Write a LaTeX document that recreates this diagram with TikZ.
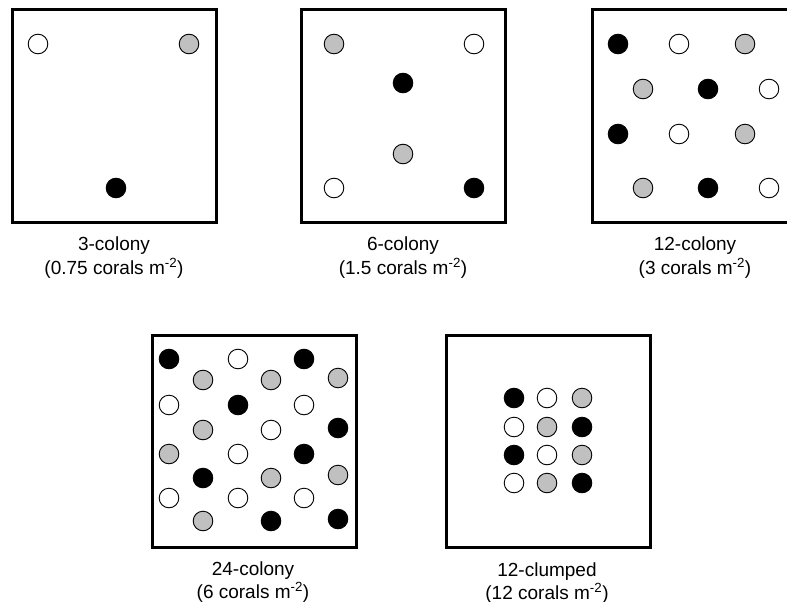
\documentclass[tikz,border=0pt]{standalone}
\usepackage{fontspec}
\setmainfont{Liberation Sans}
\definecolor{coralgray}{RGB}{192,192,192}

\begin{document}
\begin{tikzpicture}[x=1pt, y=-1pt,
	plotbox/.style={line width=3pt},
	coral/.style={draw=black, line width=0.9pt},
	labeltext/.style={anchor=base, inner sep=0pt, font=\fontsize{19}{23}\selectfont}]
	\useasboundingbox (0,0) rectangle (787,602);
	\clip (0,0) rectangle (787,602);

	% Kasten 1: 3-colony
	\draw[plotbox] (12,10) rectangle (216,222);
	\foreach \x/\y/\c in {38/44/white, 189/44/coralgray, 116/188/black}
		\draw[coral, fill=\c] (\x,\y) circle (9.8);
	\node[labeltext] (lab3a) at (114,250) {3-colony};
	\node[labeltext] (lab3b) at (114,274) {(0.75 corals m\textsuperscript{-2})};

	% Kasten 2: 6-colony
	\draw[plotbox] (301,10) rectangle (505,222);
	\foreach \x/\y/\c in {334/44/coralgray, 474/44/white, 403/83/black,
		403/154/coralgray, 334/188/white, 474/188/black}
		\draw[coral, fill=\c] (\x,\y) circle (9.8);
	\node[labeltext] (lab6a) at (403,250) {6-colony};
	\node[labeltext] (lab6b) at (403,274) {(1.5 corals m\textsuperscript{-2})};

	% Kasten 3: 12-colony (rechts abgeschnitten)
	\draw[plotbox] (592,10) rectangle (796,222);
	\foreach \x/\y/\c in {618/44/black, 679/44/white, 745/44/coralgray,
		643/89/coralgray, 708/89/black, 769/89/white,
		618/134/black, 679/134/white, 745/134/coralgray,
		643/188/coralgray, 708/188/black, 769/188/white}
		\draw[coral, fill=\c] (\x,\y) circle (9.8);
	\node[labeltext] (lab12a) at (695,250) {12-colony};
	\node[labeltext] (lab12b) at (695,274) {(3 corals m\textsuperscript{-2})};

	% Kasten 4: 24-colony
	\draw[plotbox] (152,335) rectangle (356,547);
	\foreach \x/\y/\c in {169/359/black, 238/359/white, 304/359/black,
		203/380/coralgray, 271/380/coralgray, 338/378/coralgray,
		169/405/white, 238/405/black, 304/405/white,
		203/430/coralgray, 271/430/white, 338/428/black,
		169/454/coralgray, 238/454/white, 304/454/black,
		203/478/black, 271/478/coralgray, 338/475/coralgray,
		169/498/white, 238/498/white, 304/498/white,
		203/521/coralgray, 271/521/black, 338/519/black}
		\draw[coral, fill=\c] (\x,\y) circle (9.8);
	\node[labeltext] (lab24a) at (253,575) {24-colony};
	\node[labeltext] (lab24b) at (253,598) {(6 corals m\textsuperscript{-2})};

	% Kasten 5: 12-clumped
	\draw[plotbox] (446,335) rectangle (650,547);
	\foreach \x/\y/\c in {514/398/black, 547/398/white, 582/398/coralgray,
		514/427/white, 547/427/coralgray, 582/427/black,
		514/455/black, 547/455/white, 582/455/coralgray,
		514/483/white, 547/483/coralgray, 582/483/black}
		\draw[coral, fill=\c] (\x,\y) circle (9.8);
	\node[labeltext] (labcla) at (547,576) {12-clumped};
	\node[labeltext] (labclb) at (547,599) {(12 corals m\textsuperscript{-2})};

\end{tikzpicture}
\end{document}
